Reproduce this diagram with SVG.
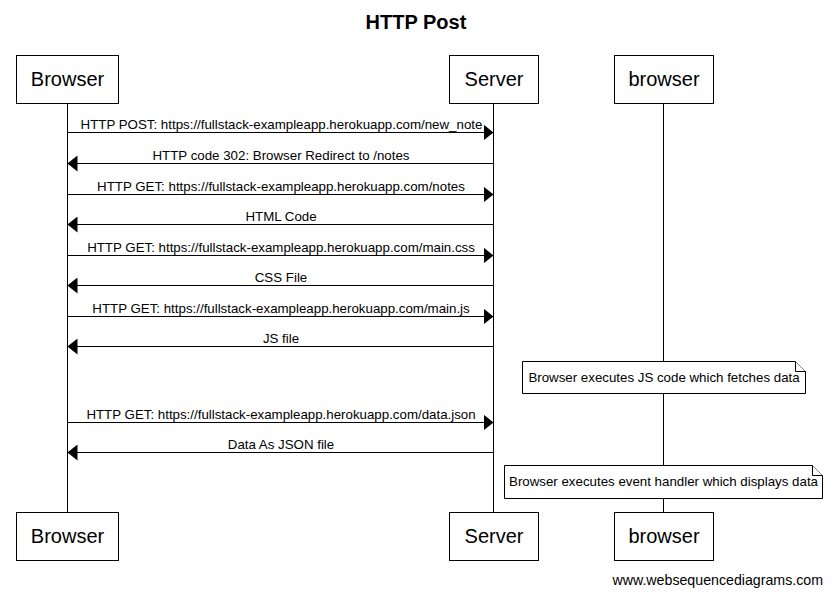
<svg xmlns="http://www.w3.org/2000/svg" width="832" height="595" viewBox="0 0 832 595">
<style>
text{font-family:"Liberation Sans",Arial,sans-serif;fill:#000}
.title{font-size:20px;font-weight:bold;text-anchor:middle}
.part{font-size:20px;text-anchor:middle}
.lbl{font-size:13.3px;text-anchor:middle}
.box{fill:#fff;stroke:#000;stroke-width:1}
.life{stroke:#000;stroke-width:1}
.msg{stroke:#000;stroke-width:1;fill:none}
.note{fill:#fff;stroke:#000;stroke-width:1}
</style>
<defs>
<marker id="ah" viewBox="0 0 10 16" refX="10" refY="8" markerWidth="10" markerHeight="16" markerUnits="userSpaceOnUse" orient="auto">
<path d="M0,0 L10,8 L0,16 Z" fill="#000"/>
</marker>
</defs>
<rect width="832" height="595" fill="#fff"/>
<text class="title" x="416" y="29">HTTP Post</text>
<g id="lifelines">
<line class="life" x1="67.5" y1="103" x2="67.5" y2="512"/>
<line class="life" x1="493.5" y1="103" x2="493.5" y2="512"/>
<line class="life" x1="663.5" y1="103" x2="663.5" y2="512"/>
</g>
<g id="Browser">
<rect class="box" x="16.5" y="55.5" width="102" height="48"/>
<text class="part" x="67.5" y="86">Browser</text>
<rect class="box" x="16.5" y="512.5" width="102" height="48"/>
<text class="part" x="67.5" y="543">Browser</text>
</g>
<g id="Server">
<rect class="box" x="449.5" y="55.5" width="89" height="48"/>
<text class="part" x="494" y="86">Server</text>
<rect class="box" x="449.5" y="512.5" width="89" height="48"/>
<text class="part" x="494" y="543">Server</text>
</g>
<g id="browser2">
<rect class="box" x="614.5" y="55.5" width="99" height="48"/>
<text class="part" x="664" y="86">browser</text>
<rect class="box" x="614.5" y="512.5" width="99" height="48"/>
<text class="part" x="664" y="543">browser</text>
</g>
<g id="connectors">
<line class="msg" x1="67.5" y1="132.5" x2="493.5" y2="132.5" marker-end="url(#ah)"/>
<text class="lbl" x="281.5" y="128.5">HTTP POST: https://fullstack-exampleapp.herokuapp.com/new_note</text>
<line class="msg" x1="493.5" y1="163.5" x2="67.5" y2="163.5" marker-end="url(#ah)"/>
<text class="lbl" x="281" y="159.5">HTTP code 302: Browser Redirect to /notes</text>
<line class="msg" x1="67.5" y1="194.5" x2="493.5" y2="194.5" marker-end="url(#ah)"/>
<text class="lbl" x="281" y="190.5">HTTP GET: https://fullstack-exampleapp.herokuapp.com/notes</text>
<line class="msg" x1="493.5" y1="224.5" x2="67.5" y2="224.5" marker-end="url(#ah)"/>
<text class="lbl" x="281" y="220.5">HTML Code</text>
<line class="msg" x1="67.5" y1="255.5" x2="493.5" y2="255.5" marker-end="url(#ah)"/>
<text class="lbl" x="281" y="251.5">HTTP GET: https://fullstack-exampleapp.herokuapp.com/main.css</text>
<line class="msg" x1="493.5" y1="285.5" x2="67.5" y2="285.5" marker-end="url(#ah)"/>
<text class="lbl" x="281" y="281.5">CSS File</text>
<line class="msg" x1="67.5" y1="316.5" x2="493.5" y2="316.5" marker-end="url(#ah)"/>
<text class="lbl" x="281" y="312.5">HTTP GET: https://fullstack-exampleapp.herokuapp.com/main.js</text>
<line class="msg" x1="493.5" y1="346.5" x2="67.5" y2="346.5" marker-end="url(#ah)"/>
<text class="lbl" x="281" y="342.5">JS file</text>
<line class="msg" x1="67.5" y1="422.5" x2="493.5" y2="422.5" marker-end="url(#ah)"/>
<text class="lbl" x="281" y="418.5">HTTP GET: https://fullstack-exampleapp.herokuapp.com/data.json</text>
<line class="msg" x1="493.5" y1="452.5" x2="67.5" y2="452.5" marker-end="url(#ah)"/>
<text class="lbl" x="281" y="448.5">Data As JSON file</text>
</g>
<g id="note1">
<path class="note" d="M522.5,361.5 H795.5 L805.5,371.5 V393.5 H522.5 Z"/>
<path class="note" d="M795.5,361.5 V371.5 H805.5"/>
<text class="lbl" x="664" y="381.5">Browser executes JS code which fetches data</text>
</g>
<g id="note2">
<path class="note" d="M504.5,465.5 H812.5 L822.5,475.5 V498.5 H504.5 Z"/>
<path class="note" d="M812.5,465.5 V475.5 H822.5"/>
<text class="lbl" x="663.5" y="486">Browser executes event handler which displays data</text>
</g>
<text x="823" y="585" font-size="14.2" text-anchor="end">www.websequencediagrams.com</text>
</svg>
